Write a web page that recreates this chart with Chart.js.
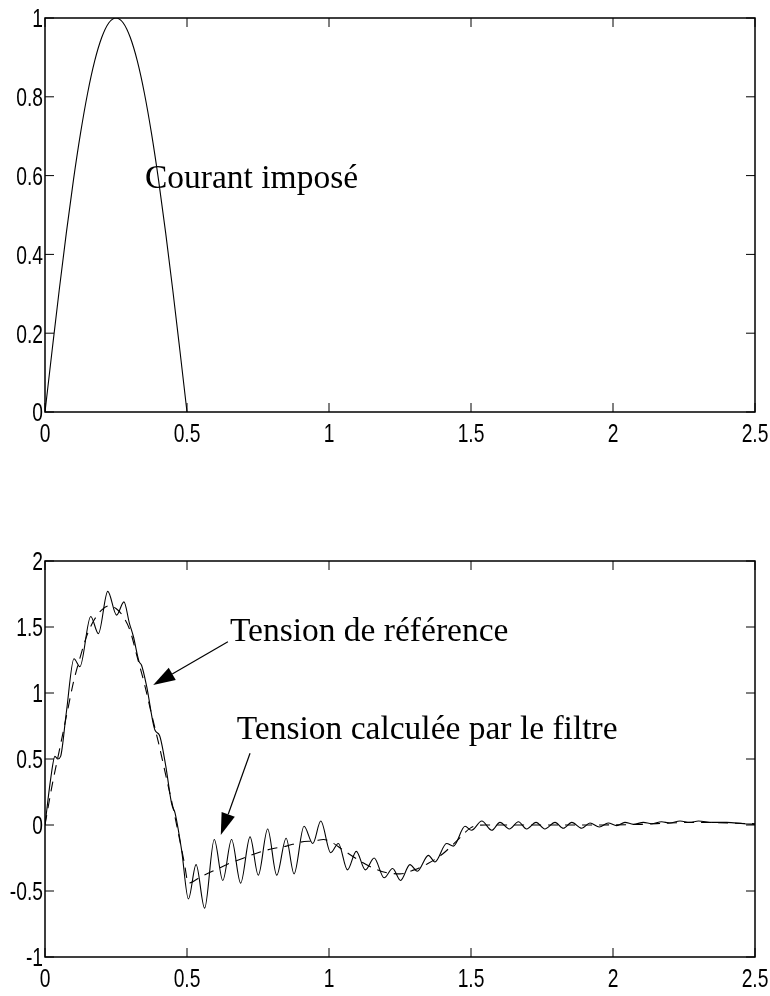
<!DOCTYPE html>
<html>
<head>
<meta charset="utf-8">
<script src="https://cdn.jsdelivr.net/npm/chart.js@4.4.1/dist/chart.umd.min.js"></script>
<style>
  html, body { margin: 0; padding: 0; background: #fff; }
  #wrap { position: relative; width: 770px; height: 996px; }
  canvas { position: absolute; left: 0; }
  #topChart { top: 0; }
  #bottomChart { top: 490px; }
</style>
</head>
<body>
<div id="wrap">
  <canvas id="topChart" width="770" height="470"></canvas>
  <canvas id="bottomChart" width="770" height="506"></canvas>
</div>
<script>
// shared time axis
const xTicks = [0, 0.5, 1, 1.5, 2, 2.5];
const xTickLabels = ['0', '0.5', '1', '1.5', '2', '2.5'];

// top plot - imposed current
const courantT = [0, 0.025, 0.05, 0.075, 0.1, 0.125, 0.15, 0.175, 0.2, 0.225, 0.25,
                  0.275, 0.3, 0.325, 0.35, 0.375, 0.4, 0.425, 0.45, 0.475, 0.5];
const courantV = [0, 0.156, 0.309, 0.454, 0.588, 0.707, 0.809, 0.891, 0.951, 0.988, 1,
                  0.988, 0.951, 0.891, 0.809, 0.707, 0.588, 0.454, 0.309, 0.156, 0];
const topYTicks = [0, 0.2, 0.4, 0.6, 0.8, 1];
const topYTickLabels = ['0', '0.2', '0.4', '0.6', '0.8', '1'];

// bottom plot - reference voltage (dashed)
const refT = [0, 0.025, 0.05, 0.075, 0.1, 0.125, 0.15, 0.175, 0.2, 0.225, 0.25, 0.275,
              0.3, 0.325, 0.35, 0.375, 0.4, 0.425, 0.45, 0.475, 0.49, 0.505, 0.55, 0.6,
              0.65, 0.7, 0.75, 0.8, 0.85, 0.9, 0.95, 0.98, 1.0, 1.05, 1.1, 1.15, 1.2,
              1.25, 1.3, 1.35, 1.4, 1.45, 1.5, 1.55, 1.7, 1.9, 2.1, 2.2, 2.3, 2.4, 2.5];
const refV = [0, 0.3, 0.56, 0.82, 1.08, 1.28, 1.45, 1.56, 1.63, 1.66, 1.64, 1.58,
              1.47, 1.27, 1.07, 0.84, 0.62, 0.38, 0.14, -0.12, -0.28, -0.44, -0.39, -0.34,
              -0.29, -0.25, -0.21, -0.18, -0.16, -0.13, -0.12, -0.11, -0.12, -0.19, -0.26, -0.32, -0.36,
              -0.37, -0.34, -0.29, -0.22, -0.12, -0.02, 0, 0, 0, 0.005, 0.015, 0.02, 0.015, 0.01];

// bottom plot - voltage computed by the filter (solid)
const filtT = [0, 0.02, 0.035, 0.045, 0.055, 0.075, 0.102, 0.123, 0.161, 0.188, 0.221, 0.252,
               0.278, 0.297, 0.311, 0.331, 0.34, 0.358, 0.387, 0.403, 0.425, 0.446, 0.458, 0.481,
               0.505, 0.532, 0.562, 0.596, 0.626, 0.657, 0.689, 0.722, 0.751, 0.784, 0.816, 0.849,
               0.877, 0.912, 0.943, 0.971, 1.006, 1.033, 1.065, 1.096, 1.128, 1.159, 1.194, 1.224,
               1.252, 1.285, 1.311, 1.35, 1.373, 1.414, 1.438, 1.479, 1.502, 1.538, 1.573, 1.602,
               1.635, 1.667, 1.696, 1.729, 1.76, 1.796, 1.825, 1.855, 1.89, 1.919, 1.952, 1.983,
               2.013, 2.042, 2.072, 2.107, 2.136, 2.171, 2.2, 2.236, 2.271, 2.301, 2.35, 2.4, 2.46, 2.5];
const filtV = [0, 0.35, 0.52, 0.5, 0.52, 0.85, 1.26, 1.2, 1.58, 1.45, 1.77, 1.59,
               1.69, 1.53, 1.43, 1.24, 1.21, 1.05, 0.72, 0.68, 0.45, 0.16, 0.09, -0.19,
               -0.56, -0.3, -0.63, -0.11, -0.42, -0.11, -0.44, -0.09, -0.38, -0.03, -0.38, -0.1,
               -0.37, -0.01, -0.14, 0.03, -0.21, -0.14, -0.34, -0.2, -0.34, -0.25, -0.4, -0.33,
               -0.42, -0.3, -0.35, -0.23, -0.28, -0.14, -0.16, -0.01, -0.04, 0.03, -0.04, 0.02,
               -0.03, 0.025, -0.03, 0.02, -0.03, 0.02, -0.025, 0.02, -0.025, 0.015, -0.015, 0.015,
               -0.005, 0.02, 0.005, 0.02, 0.01, 0.025, 0.015, 0.03, 0.02, 0.03, 0.02, 0.02, 0.01, 0.005];

const botYTicks = [-1, -0.5, 0, 0.5, 1, 1.5, 2];
const botYTickLabels = ['-1', '-0.5', '0', '0.5', '1', '1.5', '2'];

// annotations, in data coordinates
const topNotes = [{ text: 'Courant imposé', x: 0.352, y: 0.569 }];
const botNotes = [
    { text: 'Tension de référence', x: 0.651, y: 1.394 },
    { text: 'Tension calculée par le filtre', x: 0.675, y: 0.652 }
];
const botArrows = [
    { from: [0.644, 1.389], to: [0.381, 1.061] },
    { from: [0.722, 0.543], to: [0.619, -0.076] }
];

// no narrow helvetica installed, so labels get squeezed horizontally
const tickFont = '26px "Liberation Sans", Arial, sans-serif';
const tickSqueeze = 0.74;
const noteFont = '33.5px "Liberation Serif", "DejaVu Serif", serif';

function pts(ts, vs) {
    return ts.map((t, i) => ({ x: t, y: vs[i] }));
}

// frame, inward tick marks (matlab style) and tick labels
const framePlugin = {
    id: 'frame',
    afterDraw(chart) {
        const { ctx, chartArea: a, scales } = chart;
        const len = 9;
        ctx.save();
        ctx.strokeStyle = '#000';
        ctx.lineWidth = 1.5;
        ctx.strokeRect(a.left, a.top, a.right - a.left, a.bottom - a.top);
        ctx.lineWidth = 1;
        ctx.beginPath();
        scales.x.ticks.forEach(t => {
            const px = scales.x.getPixelForValue(t.value);
            ctx.moveTo(px, a.bottom); ctx.lineTo(px, a.bottom - len);
            ctx.moveTo(px, a.top); ctx.lineTo(px, a.top + len);
        });
        scales.y.ticks.forEach(t => {
            const py = scales.y.getPixelForValue(t.value);
            ctx.moveTo(a.left, py); ctx.lineTo(a.left + len, py);
            ctx.moveTo(a.right, py); ctx.lineTo(a.right - len, py);
        });
        ctx.stroke();

        ctx.fillStyle = '#000';
        ctx.font = tickFont;
        ctx.textBaseline = 'alphabetic';
        scales.x.ticks.forEach(t => {
            ctx.save();
            ctx.translate(scales.x.getPixelForValue(t.value), a.bottom + 30);
            ctx.scale(tickSqueeze, 1);
            ctx.textAlign = 'center';
            ctx.fillText(t.label, 0, 0);
            ctx.restore();
        });
        scales.y.ticks.forEach(t => {
            ctx.save();
            ctx.translate(a.left - 2, scales.y.getPixelForValue(t.value) + 9.3);
            ctx.scale(tickSqueeze, 1);
            ctx.textAlign = 'right';
            ctx.fillText(t.label, 0, 0);
            ctx.restore();
        });
        ctx.restore();
    }
};

const notesPlugin = {
    id: 'notes',
    afterDraw(chart, args, opts) {
        const { ctx, scales: { x, y } } = chart;
        ctx.save();
        ctx.fillStyle = '#000';
        ctx.strokeStyle = '#000';
        ctx.font = noteFont;
        ctx.textAlign = 'left';
        ctx.textBaseline = 'alphabetic';
        (opts.texts || []).forEach(n => {
            ctx.fillText(n.text, x.getPixelForValue(n.x), y.getPixelForValue(n.y));
        });
        (opts.arrows || []).forEach(ar => {
            const x0 = x.getPixelForValue(ar.from[0]), y0 = y.getPixelForValue(ar.from[1]);
            const x1 = x.getPixelForValue(ar.to[0]), y1 = y.getPixelForValue(ar.to[1]);
            const ang = Math.atan2(y1 - y0, x1 - x0);
            const hl = 22, hw = 7;
            const bx = x1 - hl * Math.cos(ang), by = y1 - hl * Math.sin(ang);
            ctx.lineWidth = 1.2;
            ctx.beginPath();
            ctx.moveTo(x0, y0);
            ctx.lineTo(bx, by);
            ctx.stroke();
            ctx.beginPath();
            ctx.moveTo(x1, y1);
            ctx.lineTo(bx + hw * Math.sin(ang), by - hw * Math.cos(ang));
            ctx.lineTo(bx - hw * Math.sin(ang), by + hw * Math.cos(ang));
            ctx.closePath();
            ctx.fill();
        });
        ctx.restore();
    }
};

function axes(yMin, yMax, yTicks, yLabels, xHeight) {
    return {
        x: {
            type: 'linear', min: 0, max: 2.5,
            grid: { display: false, drawTicks: false },
            border: { display: false },
            afterBuildTicks: s => { s.ticks = xTicks.map(v => ({ value: v })); },
            afterFit: s => { s.height = xHeight; },
            ticks: { display: false, callback: (v, i) => xTickLabels[i] }
        },
        y: {
            type: 'linear', min: yMin, max: yMax,
            grid: { display: false, drawTicks: false },
            border: { display: false },
            afterBuildTicks: s => { s.ticks = yTicks.map(v => ({ value: v })); },
            afterFit: s => { s.width = 45; },
            ticks: { display: false, callback: (v, i) => yLabels[i] }
        }
    };
}

new Chart(document.getElementById('topChart'), {
    type: 'line',
    data: {
        datasets: [{
            data: pts(courantT, courantV),
            borderColor: '#000', borderWidth: 1.1,
            pointRadius: 0, cubicInterpolationMode: 'monotone', fill: false
        }]
    },
    options: {
        responsive: false, animation: false,
        layout: { padding: { top: 18, right: 15, left: 0, bottom: 0 } },
        plugins: {
            legend: { display: false }, tooltip: { enabled: false },
            notes: { texts: topNotes, arrows: [] }
        },
        scales: axes(0, 1, topYTicks, topYTickLabels, 58)
    },
    plugins: [framePlugin, notesPlugin]
});

new Chart(document.getElementById('bottomChart'), {
    type: 'line',
    data: {
        datasets: [{
            data: pts(refT, refV),
            borderColor: '#000', borderWidth: 1.1, borderDash: [10, 7],
            pointRadius: 0, cubicInterpolationMode: 'monotone', fill: false
        }, {
            data: pts(filtT, filtV),
            borderColor: '#000', borderWidth: 1.1,
            pointRadius: 0, cubicInterpolationMode: 'monotone', fill: false
        }]
    },
    options: {
        responsive: false, animation: false,
        layout: { padding: { top: 71, right: 15, left: 0, bottom: 0 } },
        plugins: {
            legend: { display: false }, tooltip: { enabled: false },
            notes: { texts: botNotes, arrows: botArrows }
        },
        scales: axes(-1, 2, botYTicks, botYTickLabels, 39)
    },
    plugins: [framePlugin, notesPlugin]
});
</script>
</body>
</html>
